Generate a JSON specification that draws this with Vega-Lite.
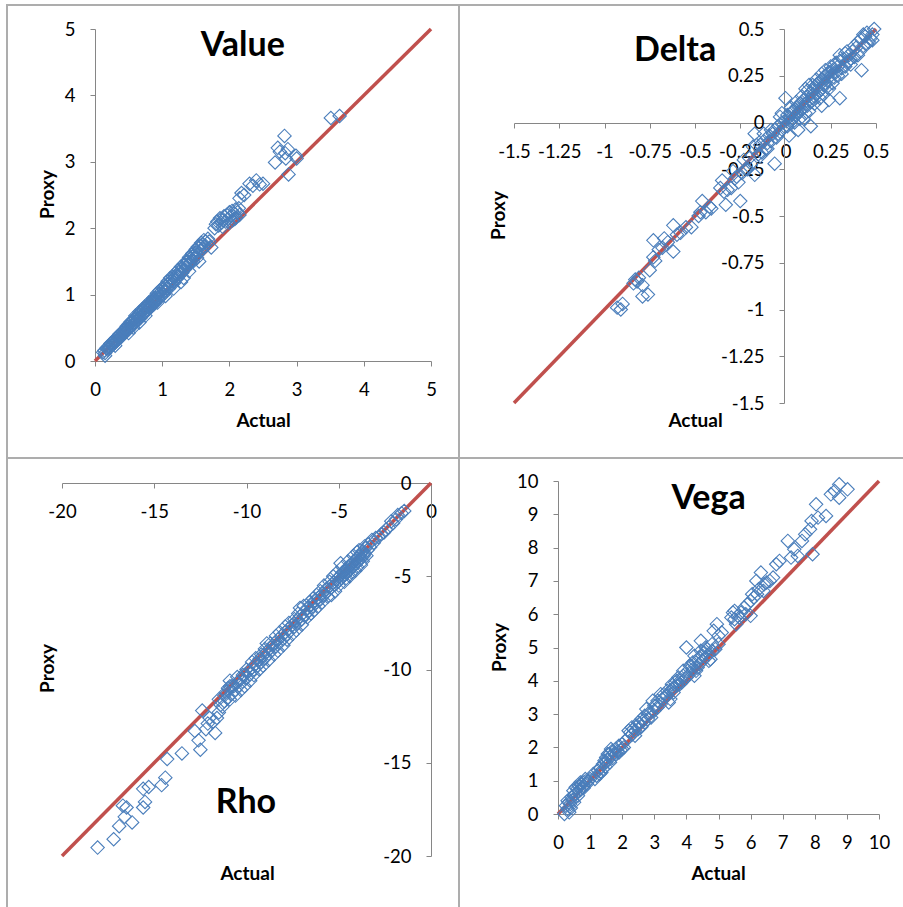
{
  "$schema": "https://vega.github.io/schema/vega-lite/v6.json",
  "background": "white",
  "padding": {"left": 6, "top": 4, "right": 0, "bottom": 0},
  "columns": 2,
  "spacing": 0,
  "bounds": "flush",
  "datasets": {
    "one": [{}],
    "value": [
      {"actual":0.12,"proxy":0.13},{"actual":0.15,"proxy":0.12},{"actual":0.17,"proxy":0.19},{"actual":0.19,"proxy":0.17},{"actual":0.2,"proxy":0.22},{"actual":0.22,"proxy":0.21},{"actual":0.23,"proxy":0.26},{"actual":0.25,"proxy":0.24},{"actual":0.26,"proxy":0.28},{"actual":0.27,"proxy":0.25},{"actual":0.29,"proxy":0.31},{"actual":0.3,"proxy":0.28},{"actual":0.31,"proxy":0.34},{"actual":0.32,"proxy":0.3},{"actual":0.33,"proxy":0.36},{"actual":0.34,"proxy":0.33},{"actual":0.35,"proxy":0.38},{"actual":0.36,"proxy":0.35},{"actual":0.37,"proxy":0.4},{"actual":0.38,"proxy":0.37},{"actual":0.39,"proxy":0.36},{"actual":0.4,"proxy":0.43},{"actual":0.41,"proxy":0.4},{"actual":0.42,"proxy":0.45},{"actual":0.43,"proxy":0.42},{"actual":0.44,"proxy":0.47},{"actual":0.45,"proxy":0.44},{"actual":0.46,"proxy":0.49},{"actual":0.47,"proxy":0.46},{"actual":0.48,"proxy":0.51},{"actual":0.49,"proxy":0.48},{"actual":0.5,"proxy":0.55},{"actual":0.51,"proxy":0.5},{"actual":0.52,"proxy":0.57},{"actual":0.53,"proxy":0.52},{"actual":0.54,"proxy":0.58},{"actual":0.55,"proxy":0.54},{"actual":0.56,"proxy":0.6},{"actual":0.57,"proxy":0.56},{"actual":0.58,"proxy":0.63},{"actual":0.59,"proxy":0.58},{"actual":0.6,"proxy":0.64},{"actual":0.61,"proxy":0.59},{"actual":0.62,"proxy":0.67},{"actual":0.63,"proxy":0.62},{"actual":0.64,"proxy":0.69},{"actual":0.65,"proxy":0.63},{"actual":0.66,"proxy":0.71},{"actual":0.67,"proxy":0.66},{"actual":0.68,"proxy":0.73},{"actual":0.69,"proxy":0.68},{"actual":0.7,"proxy":0.75},{"actual":0.71,"proxy":0.69},{"actual":0.72,"proxy":0.77},{"actual":0.73,"proxy":0.72},{"actual":0.74,"proxy":0.79},{"actual":0.75,"proxy":0.74},{"actual":0.76,"proxy":0.8},{"actual":0.77,"proxy":0.76},{"actual":0.78,"proxy":0.83},{"actual":0.8,"proxy":0.82},{"actual":0.82,"proxy":0.87},{"actual":0.83,"proxy":0.81},{"actual":0.84,"proxy":0.89},{"actual":0.86,"proxy":0.88},{"actual":0.87,"proxy":0.93},{"actual":0.88,"proxy":0.86},{"actual":0.9,"proxy":0.95},{"actual":0.91,"proxy":0.92},{"actual":0.92,"proxy":0.98},{"actual":0.94,"proxy":0.96},{"actual":0.95,"proxy":1.01},{"actual":0.97,"proxy":0.99},{"actual":0.98,"proxy":1.04},{"actual":1.0,"proxy":1.02},{"actual":1.02,"proxy":1.08},{"actual":1.03,"proxy":1.05},{"actual":1.05,"proxy":1.12},{"actual":1.07,"proxy":1.09},{"actual":1.08,"proxy":1.15},{"actual":1.1,"proxy":1.13},{"actual":1.12,"proxy":1.19},{"actual":1.14,"proxy":1.16},{"actual":1.15,"proxy":1.22},{"actual":1.17,"proxy":1.2},{"actual":1.19,"proxy":1.27},{"actual":1.2,"proxy":1.23},{"actual":1.22,"proxy":1.3},{"actual":1.24,"proxy":1.28},{"actual":1.26,"proxy":1.35},{"actual":1.28,"proxy":1.33},{"actual":1.3,"proxy":1.4},{"actual":1.32,"proxy":1.37},{"actual":1.34,"proxy":1.45},{"actual":1.36,"proxy":1.42},{"actual":1.38,"proxy":1.5},{"actual":1.4,"proxy":1.47},{"actual":1.42,"proxy":1.55},{"actual":1.44,"proxy":1.52},{"actual":1.46,"proxy":1.58},{"actual":1.48,"proxy":1.55},{"actual":1.5,"proxy":1.63},{"actual":1.52,"proxy":1.6},{"actual":1.55,"proxy":1.7},{"actual":1.57,"proxy":1.66},{"actual":1.6,"proxy":1.76},{"actual":1.62,"proxy":1.72},{"actual":1.65,"proxy":1.8},{"actual":1.58,"proxy":1.78},{"actual":1.53,"proxy":1.72},{"actual":1.45,"proxy":1.62},
      {"actual":0.14,"proxy":0.16},{"actual":0.18,"proxy":0.2},{"actual":0.21,"proxy":0.19},{"actual":0.24,"proxy":0.27},{"actual":0.28,"proxy":0.3},{"actual":0.33,"proxy":0.31},{"actual":0.36,"proxy":0.4},{"actual":0.4,"proxy":0.38},{"actual":0.44,"proxy":0.43},{"actual":0.47,"proxy":0.52},{"actual":0.5,"proxy":0.47},{"actual":0.53,"proxy":0.59},{"actual":0.55,"proxy":0.6},{"actual":0.58,"proxy":0.55},{"actual":0.6,"proxy":0.68},{"actual":0.62,"proxy":0.6},{"actual":0.64,"proxy":0.66},{"actual":0.66,"proxy":0.74},{"actual":0.68,"proxy":0.65},{"actual":0.7,"proxy":0.78},{"actual":0.72,"proxy":0.7},{"actual":0.74,"proxy":0.82},{"actual":0.76,"proxy":0.74},{"actual":0.78,"proxy":0.78},{"actual":0.8,"proxy":0.88},{"actual":0.82,"proxy":0.8},{"actual":0.84,"proxy":0.84},{"actual":0.86,"proxy":0.94},{"actual":0.88,"proxy":0.9},{"actual":0.9,"proxy":0.88},{"actual":0.92,"proxy":1.02},{"actual":0.94,"proxy":0.93},{"actual":0.96,"proxy":1.06},{"actual":0.98,"proxy":0.97},{"actual":1.0,"proxy":1.1},{"actual":1.02,"proxy":1.0},{"actual":1.04,"proxy":1.14},{"actual":1.06,"proxy":1.06},{"actual":1.08,"proxy":1.2},{"actual":1.1,"proxy":1.09},{"actual":1.12,"proxy":1.25},{"actual":1.14,"proxy":1.22},{"actual":1.16,"proxy":1.27},{"actual":1.18,"proxy":1.18},{"actual":1.2,"proxy":1.33},{"actual":1.22,"proxy":1.24},{"actual":1.24,"proxy":1.37},{"actual":1.26,"proxy":1.3},{"actual":1.28,"proxy":1.42},{"actual":1.3,"proxy":1.33},{"actual":1.32,"proxy":1.46},{"actual":1.34,"proxy":1.38},{"actual":1.36,"proxy":1.5},{"actual":1.38,"proxy":1.44},{"actual":1.4,"proxy":1.56},{"actual":1.42,"proxy":1.48},{"actual":1.44,"proxy":1.6},{"actual":1.46,"proxy":1.5},{"actual":1.5,"proxy":1.68},{"actual":1.52,"proxy":1.55},{"actual":1.56,"proxy":1.74},{"actual":1.6,"proxy":1.68},{"actual":1.62,"proxy":1.82},{"actual":1.64,"proxy":1.74},{"actual":1.68,"proxy":1.84},{"actual":1.7,"proxy":1.8},{"actual":0.75,"proxy":0.68},{"actual":1.05,"proxy":0.98},{"actual":1.32,"proxy":1.25},
      {"actual":0.57,"proxy":0.5},{"actual":0.66,"proxy":0.58},{"actual":0.93,"proxy":0.88},{"actual":1.17,"proxy":1.09},{"actual":1.28,"proxy":1.19},{"actual":1.4,"proxy":1.35},{"actual":1.55,"proxy":1.5},{"actual":0.5,"proxy":0.42},{"actual":0.3,"proxy":0.23},{"actual":0.15,"proxy":0.08},
      {"actual":1.73,"proxy":1.71},{"actual":1.78,"proxy":2.0},{"actual":1.8,"proxy":2.06},{"actual":1.82,"proxy":2.1},{"actual":1.84,"proxy":2.04},{"actual":1.86,"proxy":2.15},{"actual":1.88,"proxy":2.08},{"actual":1.9,"proxy":2.12},{"actual":1.92,"proxy":2.18},{"actual":1.94,"proxy":2.1},{"actual":1.96,"proxy":2.2},{"actual":1.98,"proxy":2.14},{"actual":2.0,"proxy":2.24},{"actual":2.02,"proxy":2.18},{"actual":2.04,"proxy":2.26},{"actual":2.05,"proxy":2.12},{"actual":2.07,"proxy":2.22},{"actual":2.09,"proxy":2.28},{"actual":2.1,"proxy":2.16},{"actual":2.12,"proxy":2.24},{"actual":2.14,"proxy":2.3},{"actual":2.15,"proxy":2.2},{"actual":1.9,"proxy":2.02},{"actual":2.0,"proxy":2.08},{"actual":2.08,"proxy":2.14},
      {"actual":2.15,"proxy":2.45},{"actual":2.18,"proxy":2.53},{"actual":2.22,"proxy":2.5},{"actual":2.3,"proxy":2.67},{"actual":2.35,"proxy":2.64},{"actual":2.4,"proxy":2.72},{"actual":2.45,"proxy":2.66},{"actual":2.5,"proxy":2.67},
      {"actual":2.68,"proxy":2.99},{"actual":2.72,"proxy":3.21},{"actual":2.75,"proxy":3.15},{"actual":2.82,"proxy":3.39},{"actual":2.83,"proxy":3.13},{"actual":2.84,"proxy":3.05},{"actual":2.87,"proxy":3.19},{"actual":2.88,"proxy":2.81},{"actual":2.99,"proxy":3.09},{"actual":3.0,"proxy":3.05},
      {"actual":3.51,"proxy":3.66},{"actual":3.64,"proxy":3.69}
    ],
    "delta": [
      {"actual":-0.93,"proxy":-0.99},{"actual":-0.91,"proxy":-1.0},{"actual":-0.9,"proxy":-0.97},{"actual":-0.84,"proxy":-0.86},{"actual":-0.83,"proxy":-0.84},{"actual":-0.82,"proxy":-0.85},{"actual":-0.81,"proxy":-0.83},{"actual":-0.79,"proxy":-0.87},{"actual":-0.79,"proxy":-0.93},{"actual":-0.76,"proxy":-0.92},{"actual":-0.75,"proxy":-0.79},{"actual":-0.73,"proxy":-0.63},{"actual":-0.73,"proxy":-0.72},{"actual":-0.72,"proxy":-0.74},{"actual":-0.7,"proxy":-0.68},{"actual":-0.68,"proxy":-0.67},{"actual":-0.67,"proxy":-0.62},{"actual":-0.65,"proxy":-0.64},{"actual":-0.62,"proxy":-0.55},{"actual":-0.62,"proxy":-0.69},{"actual":-0.6,"proxy":-0.6},{"actual":-0.58,"proxy":-0.59},{"actual":-0.55,"proxy":-0.56},{"actual":-0.52,"proxy":-0.56},{"actual":-0.48,"proxy":-0.5},{"actual":-0.47,"proxy":-0.48},{"actual":-0.46,"proxy":-0.42},{"actual":-0.44,"proxy":-0.48},{"actual":-0.42,"proxy":-0.45},{"actual":-0.41,"proxy":-0.46},{"actual":-0.36,"proxy":-0.35},{"actual":-0.35,"proxy":-0.31},{"actual":-0.34,"proxy":-0.37},{"actual":-0.33,"proxy":-0.44},{"actual":-0.32,"proxy":-0.36},{"actual":-0.3,"proxy":-0.35},{"actual":-0.28,"proxy":-0.3},{"actual":-0.25,"proxy":-0.42},{"actual":-0.24,"proxy":-0.27},{"actual":-0.22,"proxy":-0.25},{"actual":-0.21,"proxy":-0.25},{"actual":-0.2,"proxy":-0.19},{"actual":-0.18,"proxy":-0.13},{"actual":-0.17,"proxy":-0.06},{"actual":-0.17,"proxy":-0.28},{"actual":-0.15,"proxy":-0.17},{"actual":-0.14,"proxy":-0.12},{"actual":-0.13,"proxy":-0.16},{"actual":-0.12,"proxy":-0.1},{"actual":-0.11,"proxy":-0.14},{"actual":-0.1,"proxy":-0.11},{"actual":-0.09,"proxy":-0.07},{"actual":-0.08,"proxy":-0.1},{"actual":-0.07,"proxy":-0.06},{"actual":-0.06,"proxy":-0.22},{"actual":-0.06,"proxy":-0.04},{"actual":-0.05,"proxy":-0.08},{"actual":-0.04,"proxy":-0.02},{"actual":-0.03,"proxy":-0.05},{"actual":-0.03,"proxy":0.03},{"actual":-0.02,"proxy":0.0},{"actual":-0.01,"proxy":-0.03},
      {"actual":0.01,"proxy":0.04},{"actual":0.03,"proxy":0.08},{"actual":0.05,"proxy":0.0},{"actual":0.06,"proxy":0.11},{"actual":0.08,"proxy":0.02},{"actual":0.09,"proxy":0.14},{"actual":0.11,"proxy":0.05},{"actual":0.12,"proxy":0.17},{"actual":0.13,"proxy":0.06},{"actual":0.15,"proxy":0.2},{"actual":0.16,"proxy":0.1},{"actual":0.17,"proxy":0.23},{"actual":0.19,"proxy":0.13},{"actual":0.2,"proxy":0.26},{"actual":0.21,"proxy":0.15},{"actual":0.22,"proxy":0.28},{"actual":0.24,"proxy":0.18},{"actual":0.25,"proxy":0.3},{"actual":0.26,"proxy":0.21},{"actual":0.27,"proxy":0.31},{"actual":0.29,"proxy":0.25},{"actual":0.3,"proxy":0.36},{"actual":0.31,"proxy":0.26},{"actual":0.33,"proxy":0.3},{"actual":0.34,"proxy":0.38},{"actual":0.36,"proxy":0.31},{"actual":0.38,"proxy":0.41},{"actual":0.4,"proxy":0.36},{"actual":0.43,"proxy":0.47},{"actual":0.45,"proxy":0.48},{"actual":0.46,"proxy":0.43},{"actual":0.35,"proxy":0.33},{"actual":0.24,"proxy":0.12},{"actual":0.2,"proxy":0.09},{"actual":-0.02,"proxy":0.05},{"actual":-0.04,"proxy":-0.06},{"actual":-0.08,"proxy":-0.04},{"actual":-0.1,"proxy":-0.14},{"actual":-0.12,"proxy":-0.06},{"actual":-0.14,"proxy":-0.18},{"actual":-0.16,"proxy":-0.12},{"actual":-0.19,"proxy":-0.22},{"actual":-0.23,"proxy":-0.2},{"actual":-0.27,"proxy":-0.29},{"actual":-0.29,"proxy":-0.26},{"actual":-0.26,"proxy":-0.32},
      {"actual":0.0,"proxy":0.13},{"actual":0.0,"proxy":0.01},{"actual":0.01,"proxy":-0.02},{"actual":0.02,"proxy":0.03},{"actual":0.02,"proxy":0.0},{"actual":0.02,"proxy":-0.07},{"actual":0.03,"proxy":0.05},{"actual":0.03,"proxy":0.01},{"actual":0.04,"proxy":0.06},{"actual":0.04,"proxy":0.02},{"actual":0.05,"proxy":0.07},{"actual":0.05,"proxy":0.03},{"actual":0.06,"proxy":0.08},{"actual":0.06,"proxy":0.04},{"actual":0.07,"proxy":0.09},{"actual":0.07,"proxy":0.05},{"actual":0.07,"proxy":-0.04},{"actual":0.08,"proxy":0.1},{"actual":0.08,"proxy":0.06},{"actual":0.09,"proxy":0.11},{"actual":0.09,"proxy":0.07},{"actual":0.1,"proxy":0.12},{"actual":0.1,"proxy":0.08},{"actual":0.1,"proxy":0.02},{"actual":0.11,"proxy":0.18},{"actual":0.11,"proxy":0.1},{"actual":0.12,"proxy":0.14},{"actual":0.12,"proxy":0.09},{"actual":0.13,"proxy":0.2},{"actual":0.13,"proxy":0.12},{"actual":0.14,"proxy":0.16},{"actual":0.14,"proxy":0.11},{"actual":0.14,"proxy":-0.02},{"actual":0.15,"proxy":0.17},{"actual":0.15,"proxy":0.13},{"actual":0.16,"proxy":0.19},{"actual":0.16,"proxy":0.14},{"actual":0.17,"proxy":0.2},{"actual":0.17,"proxy":0.15},{"actual":0.18,"proxy":0.21},{"actual":0.18,"proxy":0.16},{"actual":0.19,"proxy":0.22},{"actual":0.19,"proxy":0.17},{"actual":0.2,"proxy":0.23},{"actual":0.2,"proxy":0.18},{"actual":0.21,"proxy":0.24},{"actual":0.21,"proxy":0.2},{"actual":0.22,"proxy":0.25},{"actual":0.22,"proxy":0.21},{"actual":0.23,"proxy":0.26},{"actual":0.23,"proxy":0.19},{"actual":0.24,"proxy":0.27},{"actual":0.24,"proxy":0.22},{"actual":0.25,"proxy":0.25},{"actual":0.26,"proxy":0.28},{"actual":0.27,"proxy":0.24},{"actual":0.28,"proxy":0.32},{"actual":0.28,"proxy":0.27},{"actual":0.29,"proxy":0.3},{"actual":0.3,"proxy":0.13},{"actual":0.3,"proxy":0.33},{"actual":0.31,"proxy":0.29},{"actual":0.32,"proxy":0.34},{"actual":0.33,"proxy":0.37},{"actual":0.34,"proxy":0.32},{"actual":0.35,"proxy":0.36},{"actual":0.36,"proxy":0.34},{"actual":0.37,"proxy":0.38},{"actual":0.38,"proxy":0.35},{"actual":0.39,"proxy":0.4},{"actual":0.4,"proxy":0.43},{"actual":0.41,"proxy":0.38},{"actual":0.42,"proxy":0.28},{"actual":0.42,"proxy":0.45},{"actual":0.43,"proxy":0.41},{"actual":0.44,"proxy":0.46},{"actual":0.45,"proxy":0.42},{"actual":0.47,"proxy":0.45},{"actual":0.48,"proxy":0.44},{"actual":0.48,"proxy":0.47},{"actual":0.49,"proxy":0.5}
    ],
    "rho": [
      {"actual":-1.45,"proxy":-1.5},{"actual":-1.6,"proxy":-1.62},{"actual":-1.8,"proxy":-1.72},{"actual":-1.9,"proxy":-1.95},{"actual":-2.05,"proxy":-2.15},{"actual":-2.15,"proxy":-2.05},{"actual":-2.3,"proxy":-2.38},{"actual":-2.45,"proxy":-2.5},{"actual":-2.55,"proxy":-2.65},{"actual":-2.7,"proxy":-2.75},{"actual":-2.85,"proxy":-2.9},{"actual":-3.0,"proxy":-2.95},{"actual":-3.1,"proxy":-3.2},{"actual":-3.2,"proxy":-3.05},{"actual":-3.3,"proxy":-3.45},{"actual":-3.4,"proxy":-3.3},{"actual":-3.45,"proxy":-3.6},{"actual":-3.55,"proxy":-3.5},{"actual":-3.6,"proxy":-3.75},{"actual":-3.65,"proxy":-3.9},{"actual":-3.7,"proxy":-3.65},{"actual":-3.75,"proxy":-4.0},{"actual":-3.8,"proxy":-3.8},{"actual":-3.85,"proxy":-4.1},{"actual":-3.9,"proxy":-3.95},{"actual":-3.95,"proxy":-4.2},{"actual":-4.0,"proxy":-4.05},{"actual":-4.0,"proxy":-3.7},{"actual":-4.05,"proxy":-4.3},{"actual":-4.1,"proxy":-4.15},{"actual":-4.15,"proxy":-4.4},{"actual":-4.2,"proxy":-4.2},{"actual":-4.25,"proxy":-4.5},{"actual":-4.3,"proxy":-4.35},{"actual":-4.35,"proxy":-4.6},{"actual":-4.4,"proxy":-4.45},{"actual":-4.45,"proxy":-4.7},{"actual":-4.5,"proxy":-4.5},{"actual":-4.55,"proxy":-4.8},{"actual":-4.6,"proxy":-4.65},{"actual":-4.65,"proxy":-4.9},{"actual":-4.7,"proxy":-4.75},{"actual":-4.75,"proxy":-5.0},{"actual":-4.8,"proxy":-4.8},{"actual":-4.85,"proxy":-5.1},{"actual":-4.9,"proxy":-4.95},{"actual":-4.9,"proxy":-4.3},{"actual":-4.95,"proxy":-5.2},{"actual":-5.0,"proxy":-5.05},{"actual":-5.05,"proxy":-5.3},{"actual":-5.1,"proxy":-5.15},{"actual":-5.2,"proxy":-5.45},{"actual":-5.3,"proxy":-5.35},{"actual":-5.4,"proxy":-5.6},{"actual":-5.5,"proxy":-5.55},{"actual":-5.6,"proxy":-5.8},{"actual":-5.7,"proxy":-5.7},{"actual":-5.8,"proxy":-6.0},{"actual":-5.9,"proxy":-5.95},{"actual":-6.0,"proxy":-6.25},{"actual":-6.1,"proxy":-6.15},{"actual":-6.2,"proxy":-6.4},{"actual":-6.3,"proxy":-6.3},{"actual":-6.4,"proxy":-6.6},{"actual":-6.5,"proxy":-6.55},{"actual":-6.6,"proxy":-6.85},{"actual":-6.7,"proxy":-6.7},{"actual":-6.8,"proxy":-7.05},{"actual":-6.9,"proxy":-6.95},{"actual":-7.0,"proxy":-7.3},{"actual":-7.1,"proxy":-7.15},{"actual":-7.1,"proxy":-6.7},{"actual":-7.2,"proxy":-7.5},{"actual":-7.3,"proxy":-7.4},{"actual":-7.4,"proxy":-7.7},{"actual":-7.5,"proxy":-7.6},{"actual":-7.6,"proxy":-7.9},{"actual":-7.7,"proxy":-7.8},{"actual":-7.8,"proxy":-8.1},{"actual":-7.9,"proxy":-8.0},{"actual":-8.0,"proxy":-8.35},{"actual":-8.1,"proxy":-8.2},{"actual":-8.2,"proxy":-8.55},{"actual":-8.3,"proxy":-8.4},{"actual":-8.4,"proxy":-8.75},{"actual":-8.5,"proxy":-8.6},{"actual":-8.6,"proxy":-8.95},{"actual":-8.7,"proxy":-8.85},{"actual":-8.8,"proxy":-9.15},{"actual":-8.9,"proxy":-9.05},{"actual":-8.9,"proxy":-8.6},{"actual":-9.0,"proxy":-9.4},{"actual":-9.1,"proxy":-9.25},{"actual":-9.2,"proxy":-9.6},{"actual":-9.3,"proxy":-9.45},{"actual":-9.4,"proxy":-9.8},{"actual":-9.5,"proxy":-9.7},{"actual":-9.6,"proxy":-10.0},{"actual":-9.7,"proxy":-9.9},{"actual":-9.8,"proxy":-10.25},{"actual":-9.9,"proxy":-10.1},{"actual":-10.0,"proxy":-10.45},{"actual":-10.1,"proxy":-10.3},{"actual":-10.2,"proxy":-10.65},{"actual":-10.3,"proxy":-10.5},{"actual":-10.4,"proxy":-10.85},{"actual":-10.5,"proxy":-10.7},{"actual":-10.6,"proxy":-11.1},{"actual":-10.7,"proxy":-10.9},{"actual":-10.8,"proxy":-11.3},{"actual":-10.9,"proxy":-10.9},{"actual":-10.9,"proxy":-10.6},{"actual":-11.0,"proxy":-11.5},{"actual":-11.1,"proxy":-11.2},{"actual":-11.2,"proxy":-11.7},{"actual":-11.4,"proxy":-11.9},{"actual":-11.5,"proxy":-12.3},{"actual":-11.6,"proxy":-12.6},{"actual":-11.7,"proxy":-13.4},{"actual":-11.8,"proxy":-12.8},{"actual":-12.0,"proxy":-12.6},{"actual":-12.1,"proxy":-12.9},{"actual":-12.2,"proxy":-13.2},{"actual":-12.4,"proxy":-12.2},{"actual":-12.5,"proxy":-14.3},{"actual":-12.6,"proxy":-13.8},{"actual":-12.8,"proxy":-13.3},{"actual":-13.5,"proxy":-14.5},{"actual":-14.3,"proxy":-14.8},{"actual":-14.4,"proxy":-15.8},{"actual":-14.6,"proxy":-16.2},{"actual":-15.3,"proxy":-16.3},{"actual":-15.5,"proxy":-17.1},{"actual":-15.6,"proxy":-16.4},{"actual":-15.6,"proxy":-17.4},{"actual":-16.2,"proxy":-18.2},{"actual":-16.5,"proxy":-17.4},{"actual":-16.6,"proxy":-17.9},{"actual":-16.7,"proxy":-17.3},{"actual":-16.9,"proxy":-18.4},{"actual":-17.2,"proxy":-19.1},{"actual":-18.07,"proxy":-19.55},
      {"actual":-3.5,"proxy":-3.9},{"actual":-3.6,"proxy":-3.4},{"actual":-3.7,"proxy":-4.2},{"actual":-3.8,"proxy":-4.4},{"actual":-3.9,"proxy":-3.6},{"actual":-4.0,"proxy":-4.5},{"actual":-4.1,"proxy":-4.7},{"actual":-4.2,"proxy":-3.9},{"actual":-4.3,"proxy":-4.8},{"actual":-4.4,"proxy":-5.0},{"actual":-4.5,"proxy":-4.2},{"actual":-4.6,"proxy":-5.1},{"actual":-4.7,"proxy":-5.3},{"actual":-4.8,"proxy":-4.5},{"actual":-5.0,"proxy":-5.5},{"actual":-5.1,"proxy":-4.8},{"actual":-5.2,"proxy":-5.8},{"actual":-5.3,"proxy":-5.0},{"actual":-5.4,"proxy":-6.0},{"actual":-5.5,"proxy":-5.3},{"actual":-5.6,"proxy":-6.1},{"actual":-5.8,"proxy":-5.5},{"actual":-5.9,"proxy":-6.4},{"actual":-6.0,"proxy":-5.8},{"actual":-6.1,"proxy":-6.6},{"actual":-6.2,"proxy":-6.0},{"actual":-6.3,"proxy":-6.8},{"actual":-6.4,"proxy":-6.2},{"actual":-6.5,"proxy":-7.0},{"actual":-6.6,"proxy":-6.4},{"actual":-6.7,"proxy":-7.2},{"actual":-6.9,"proxy":-6.6},{"actual":-7.0,"proxy":-7.6},{"actual":-7.2,"proxy":-7.0},{"actual":-7.3,"proxy":-7.9},{"actual":-7.4,"proxy":-7.3},{"actual":-7.5,"proxy":-8.1},{"actual":-7.7,"proxy":-7.5},{"actual":-7.8,"proxy":-8.4},{"actual":-7.9,"proxy":-7.7},{"actual":-8.0,"proxy":-8.7},{"actual":-8.2,"proxy":-8.0},{"actual":-8.3,"proxy":-9.0},{"actual":-8.4,"proxy":-8.2},{"actual":-8.5,"proxy":-9.2},{"actual":-8.7,"proxy":-8.6},{"actual":-8.8,"proxy":-9.5},{"actual":-9.0,"proxy":-8.9},{"actual":-9.1,"proxy":-9.8},{"actual":-9.2,"proxy":-9.2},{"actual":-9.3,"proxy":-10.0},{"actual":-9.5,"proxy":-9.4},{"actual":-9.6,"proxy":-10.3},{"actual":-9.7,"proxy":-9.6},{"actual":-9.8,"proxy":-10.6},{"actual":-10.0,"proxy":-10.0},{"actual":-10.1,"proxy":-10.9},{"actual":-10.2,"proxy":-10.3},{"actual":-10.3,"proxy":-11.1},{"actual":-10.5,"proxy":-10.4},{"actual":-10.6,"proxy":-11.4},{"actual":-10.8,"proxy":-10.9},{"actual":-10.9,"proxy":-11.6},{"actual":-11.0,"proxy":-11.0},{"actual":-11.2,"proxy":-11.4},{"actual":-11.3,"proxy":-12.0},{"actual":-11.5,"proxy":-11.6}
    ],
    "vega": [
      {"actual":0.2,"proxy":0.0},{"actual":0.25,"proxy":0.25},{"actual":0.3,"proxy":0.15},{"actual":0.33,"proxy":0.35},{"actual":0.35,"proxy":0.05},{"actual":0.38,"proxy":0.3},{"actual":0.4,"proxy":0.18},{"actual":0.42,"proxy":0.5},{"actual":0.45,"proxy":0.42},{"actual":0.48,"proxy":0.7},{"actual":0.5,"proxy":0.55},{"actual":0.55,"proxy":0.62},{"actual":0.6,"proxy":0.75},{"actual":0.62,"proxy":0.55},{"actual":0.65,"proxy":0.85},{"actual":0.7,"proxy":0.72},{"actual":0.72,"proxy":0.9},{"actual":0.75,"proxy":0.8},{"actual":0.78,"proxy":0.95},{"actual":0.8,"proxy":0.85},{"actual":0.85,"proxy":0.98},{"actual":0.9,"proxy":0.9},{"actual":0.95,"proxy":1.0},{"actual":1.2,"proxy":1.15},{"actual":1.25,"proxy":1.3},{"actual":1.3,"proxy":1.38},{"actual":1.35,"proxy":1.25},{"actual":1.4,"proxy":1.5},{"actual":1.45,"proxy":1.6},{"actual":1.48,"proxy":1.42},{"actual":1.5,"proxy":1.7},{"actual":1.55,"proxy":1.62},{"actual":1.6,"proxy":1.8},{"actual":1.62,"proxy":1.55},{"actual":1.65,"proxy":1.75},{"actual":1.7,"proxy":1.9},{"actual":1.75,"proxy":1.82},{"actual":1.8,"proxy":1.95},{"actual":1.85,"proxy":1.88},{"actual":1.9,"proxy":2.05},{"actual":1.95,"proxy":1.92},{"actual":2.0,"proxy":2.1},{"actual":2.05,"proxy":2.0},{"actual":2.2,"proxy":2.3},{"actual":2.25,"proxy":2.45},{"actual":2.3,"proxy":2.38},{"actual":2.35,"proxy":2.55},{"actual":2.4,"proxy":2.5},{"actual":2.45,"proxy":2.65},{"actual":2.5,"proxy":2.55},{"actual":2.55,"proxy":2.72},{"actual":2.6,"proxy":2.62},{"actual":2.65,"proxy":2.8},{"actual":2.7,"proxy":2.75},{"actual":2.75,"proxy":3.15},{"actual":2.8,"proxy":2.85},{"actual":2.9,"proxy":3.05},{"actual":2.95,"proxy":3.4},{"actual":3.0,"proxy":3.1},{"actual":3.05,"proxy":3.25},{"actual":3.1,"proxy":3.2},{"actual":3.2,"proxy":3.6},{"actual":3.25,"proxy":3.45},{"actual":3.3,"proxy":3.5},{"actual":3.4,"proxy":3.55},{"actual":3.45,"proxy":3.35},{"actual":3.5,"proxy":3.7},{"actual":3.55,"proxy":3.75},{"actual":3.6,"proxy":3.8},{"actual":3.65,"proxy":3.95},{"actual":3.7,"proxy":3.85},{"actual":3.75,"proxy":4.1},{"actual":3.8,"proxy":4.0},{"actual":3.85,"proxy":3.95},{"actual":3.9,"proxy":4.15},{"actual":3.95,"proxy":4.05},{"actual":4.0,"proxy":5.0},{"actual":4.05,"proxy":4.3},{"actual":4.1,"proxy":4.2},{"actual":4.15,"proxy":4.45},{"actual":4.2,"proxy":4.35},{"actual":4.25,"proxy":4.15},{"actual":4.3,"proxy":4.55},{"actual":4.35,"proxy":4.4},{"actual":4.4,"proxy":4.7},{"actual":4.45,"proxy":5.2},{"actual":4.5,"proxy":4.6},{"actual":4.55,"proxy":4.85},{"actual":4.6,"proxy":4.7},{"actual":4.65,"proxy":4.95},{"actual":4.7,"proxy":4.8},{"actual":4.75,"proxy":4.65},{"actual":4.8,"proxy":4.9},{"actual":4.85,"proxy":5.5},{"actual":4.95,"proxy":5.7},{"actual":5.0,"proxy":5.1},{"actual":5.4,"proxy":5.9},{"actual":5.45,"proxy":6.05},{"actual":5.5,"proxy":5.85},{"actual":5.55,"proxy":5.7},{"actual":5.6,"proxy":5.95},{"actual":5.7,"proxy":6.05},{"actual":5.8,"proxy":6.2},{"actual":5.85,"proxy":6.0},{"actual":6.0,"proxy":5.95},{"actual":6.0,"proxy":6.4},{"actual":6.1,"proxy":6.5},{"actual":6.18,"proxy":7.0},{"actual":6.25,"proxy":6.75},{"actual":6.32,"proxy":7.25},{"actual":6.42,"proxy":6.9},{"actual":6.5,"proxy":6.95},{"actual":6.7,"proxy":7.1},{"actual":6.8,"proxy":7.5},{"actual":6.9,"proxy":7.6},{"actual":7.16,"proxy":8.2},{"actual":7.26,"proxy":7.7},{"actual":7.36,"proxy":7.95},{"actual":7.47,"proxy":7.75},{"actual":7.6,"proxy":8.2},{"actual":7.7,"proxy":8.4},{"actual":7.85,"proxy":8.55},{"actual":7.9,"proxy":8.8},{"actual":7.93,"proxy":7.8},{"actual":8.04,"proxy":9.3},{"actual":8.1,"proxy":8.9},{"actual":8.35,"proxy":8.95},{"actual":8.5,"proxy":9.6},{"actual":8.62,"proxy":9.7},{"actual":8.76,"proxy":9.9},{"actual":8.76,"proxy":9.5},{"actual":9.02,"proxy":9.75},
      {"actual":0.3,"proxy":0.4},{"actual":0.5,"proxy":0.35},{"actual":0.55,"proxy":0.8},{"actual":0.65,"proxy":0.68},{"actual":0.7,"proxy":0.95},{"actual":0.8,"proxy":0.78},{"actual":0.85,"proxy":1.05},{"actual":1.0,"proxy":1.05},{"actual":1.1,"proxy":1.2},{"actual":1.15,"proxy":1.05},{"actual":1.3,"proxy":1.2},{"actual":1.4,"proxy":1.35},{"actual":1.5,"proxy":1.55},{"actual":1.55,"proxy":1.8},{"actual":1.65,"proxy":1.95},{"actual":1.7,"proxy":1.68},{"actual":1.8,"proxy":1.8},{"actual":1.9,"proxy":1.85},{"actual":2.0,"proxy":1.95},{"actual":2.1,"proxy":2.2},{"actual":2.2,"proxy":2.5},{"actual":2.3,"proxy":2.6},{"actual":2.4,"proxy":2.35},{"actual":2.5,"proxy":2.75},{"actual":2.6,"proxy":2.85},{"actual":2.7,"proxy":2.95},{"actual":2.8,"proxy":3.0},{"actual":2.9,"proxy":2.9},{"actual":3.0,"proxy":3.25},{"actual":3.1,"proxy":3.4},{"actual":3.2,"proxy":3.3},{"actual":3.3,"proxy":3.6},{"actual":3.4,"proxy":3.7},{"actual":3.5,"proxy":3.45},{"actual":3.55,"proxy":3.9},{"actual":3.6,"proxy":3.65},{"actual":3.7,"proxy":4.0},{"actual":3.8,"proxy":3.9},{"actual":3.9,"proxy":4.3},{"actual":4.0,"proxy":4.1},{"actual":4.1,"proxy":4.45},{"actual":4.2,"proxy":4.55},{"actual":4.25,"proxy":4.75},{"actual":4.3,"proxy":4.3},{"actual":4.4,"proxy":4.5},{"actual":4.45,"proxy":4.9},{"actual":4.5,"proxy":4.75},{"actual":4.6,"proxy":5.0},{"actual":4.7,"proxy":4.6},{"actual":4.8,"proxy":5.1},{"actual":4.9,"proxy":4.95},{"actual":5.0,"proxy":5.35},{"actual":5.1,"proxy":5.45},{"actual":5.5,"proxy":6.1},{"actual":5.65,"proxy":5.9},{"actual":5.9,"proxy":6.3},{"actual":6.05,"proxy":6.6},{"actual":6.2,"proxy":6.6},{"actual":6.4,"proxy":6.7},{"actual":6.6,"proxy":7.0}
    ]
  },
  "concat": [
    {
      "width": 452, "height": 453,
      "layer": [
        {"data": {"name": "one"},
         "mark": {"type": "rule", "color": "#C0504D", "strokeWidth": 3.5},
         "encoding": {
           "x": {"datum": 0, "type": "quantitative", "scale": {"domain": [0, 5], "range": [88, 424], "nice": false, "zero": false},
                 "axis": {"orient": "bottom", "offset": -97, "values": [0,1,2,3,4,5], "title": "Actual", "titleX": 256, "titleY": 65, "labelExpr": "replace(format(datum.value, '~g'), '\u2212', '-')"}},
           "y": {"datum": 0, "type": "quantitative", "scale": {"domain": [0, 5], "range": [356, 24], "nice": false, "zero": false},
                 "axis": {"orient": "left", "offset": -88, "values": [0,1,2,3,4,5], "title": "Proxy", "titleX": -42, "titleY": 189, "labelExpr": "replace(format(datum.value, '~g'), '\u2212', '-')"}},
           "x2": {"datum": 5}, "y2": {"datum": 5}}},
        {"data": {"name": "value"},
         "mark": {"type": "point", "shape": "diamond", "size": 180, "filled": false, "color": "#4A7EBB", "strokeWidth": 1.1, "opacity": 1},
         "encoding": {"x": {"field": "actual", "type": "quantitative"}, "y": {"field": "proxy", "type": "quantitative"}}},
        {"data": {"name": "one"},
         "mark": {"type": "text", "text": "Value", "font": "Lato", "fontSize": 34, "fontWeight": "bold", "align": "center", "baseline": "alphabetic", "color": "#000000"},
         "encoding": {"x": {"datum": 2.2, "type": "quantitative"}, "y": {"datum": 4.59, "type": "quantitative"}}}
      ]
    },
    {
      "width": 452, "height": 453,
      "layer": [
        {"data": {"name": "one"},
         "mark": {"type": "rule", "color": "#C0504D", "strokeWidth": 3.5},
         "encoding": {
           "x": {"datum": -1.5, "type": "quantitative", "scale": {"domain": [-1.5, 0.5], "range": [55, 417], "nice": false, "zero": false},
                 "axis": {"orient": "bottom", "offset": -335, "values": [-1.5,-1.25,-1,-0.75,-0.5,-0.25,0,0.25,0.5], "title": "Actual", "titleX": 236, "titleY": 303, "labelExpr": "replace(format(datum.value, '~g'), '\u2212', '-')"}},
           "y": {"datum": -1.5, "type": "quantitative", "scale": {"domain": [-1.5, 0.5], "range": [398, 24], "nice": false, "zero": false},
                 "axis": {"orient": "left", "offset": -325, "values": [-1.5,-1.25,-1,-0.75,-0.5,-0.25,0,0.25,0.5], "title": "Proxy", "titleX": -280, "titleY": 210, "labelExpr": "replace(format(datum.value, '~g'), '\u2212', '-')"}},
           "x2": {"datum": 0.5}, "y2": {"datum": 0.5}}},
        {"data": {"name": "delta"},
         "mark": {"type": "point", "shape": "diamond", "size": 180, "filled": false, "color": "#4A7EBB", "strokeWidth": 1.1, "opacity": 1},
         "encoding": {"x": {"field": "actual", "type": "quantitative"}, "y": {"field": "proxy", "type": "quantitative"}}},
        {"data": {"name": "one"},
         "mark": {"type": "text", "text": "Delta", "font": "Lato", "fontSize": 34, "fontWeight": "bold", "align": "center", "baseline": "alphabetic", "color": "#000000"},
         "encoding": {"x": {"datum": -0.61, "type": "quantitative"}, "y": {"datum": 0.33, "type": "quantitative"}}}
      ]
    },
    {
      "width": 452, "height": 453,
      "layer": [
        {"data": {"name": "one"},
         "mark": {"type": "rule", "color": "#C0504D", "strokeWidth": 3.5},
         "encoding": {
           "x": {"datum": -20, "type": "quantitative", "scale": {"domain": [-20, 0], "range": [55, 424], "nice": false, "zero": false},
                 "axis": {"orient": "bottom", "offset": -428, "values": [-20,-15,-10,-5,0], "title": "Actual", "titleX": 240, "titleY": 396, "labelExpr": "replace(format(datum.value, '~g'), '\u2212', '-')"}},
           "y": {"datum": -20, "type": "quantitative", "scale": {"domain": [-20, 0], "range": [398, 25], "nice": false, "zero": false},
                 "axis": {"orient": "left", "offset": -424, "values": [-20,-15,-10,-5,0], "title": "Proxy", "titleX": -378, "titleY": 210, "labelExpr": "replace(format(datum.value, '~g'), '\u2212', '-')"}},
           "x2": {"datum": 0}, "y2": {"datum": 0}}},
        {"data": {"name": "rho"},
         "mark": {"type": "point", "shape": "diamond", "size": 180, "filled": false, "color": "#4A7EBB", "strokeWidth": 1.1, "opacity": 1},
         "encoding": {"x": {"field": "actual", "type": "quantitative"}, "y": {"field": "proxy", "type": "quantitative"}}},
        {"data": {"name": "one"},
         "mark": {"type": "text", "text": "Rho", "font": "Lato", "fontSize": 34, "fontWeight": "bold", "align": "center", "baseline": "alphabetic", "color": "#000000"},
         "encoding": {"x": {"datum": -10.03, "type": "quantitative"}, "y": {"datum": -17.69, "type": "quantitative"}}}
      ]
    },
    {
      "width": 452, "height": 453,
      "layer": [
        {"data": {"name": "one"},
         "mark": {"type": "rule", "color": "#C0504D", "strokeWidth": 3.5},
         "encoding": {
           "x": {"datum": 0, "type": "quantitative", "scale": {"domain": [0, 10], "range": [99, 420], "nice": false, "zero": false},
                 "axis": {"orient": "bottom", "offset": -97, "values": [0,1,2,3,4,5,6,7,8,9,10], "title": "Actual", "titleX": 259, "titleY": 65, "labelExpr": "replace(format(datum.value, '~g'), '\u2212', '-')"}},
           "y": {"datum": 0, "type": "quantitative", "scale": {"domain": [0, 10], "range": [356, 23], "nice": false, "zero": false},
                 "axis": {"orient": "left", "offset": -99, "values": [0,1,2,3,4,5,6,7,8,9,10], "title": "Proxy", "titleX": -53, "titleY": 189, "labelExpr": "replace(format(datum.value, '~g'), '\u2212', '-')"}},
           "x2": {"datum": 10}, "y2": {"datum": 10}}},
        {"data": {"name": "vega"},
         "mark": {"type": "point", "shape": "diamond", "size": 180, "filled": false, "color": "#4A7EBB", "strokeWidth": 1.1, "opacity": 1},
         "encoding": {"x": {"field": "actual", "type": "quantitative"}, "y": {"field": "proxy", "type": "quantitative"}}},
        {"data": {"name": "one"},
         "mark": {"type": "text", "text": "Vega", "font": "Lato", "fontSize": 34, "fontWeight": "bold", "align": "center", "baseline": "alphabetic", "color": "#000000"},
         "encoding": {"x": {"datum": 4.69, "type": "quantitative"}, "y": {"datum": 9.15, "type": "quantitative"}}}
      ]
    }
  ],
  "config": {
    "view": {"stroke": "#ADADAD", "strokeWidth": 2},
    "axis": {
      "grid": false,
      "domainColor": "#868686",
      "domainWidth": 1,
      "tickColor": "#868686",
      "tickWidth": 1,
      "tickSize": 5,
      "labelFont": "Lato",
      "labelFontSize": 18.5,
      "labelColor": "#000000",
      "labelFlush": false,
      "labelOverlap": false,
      "labelBound": false,
      "titleFont": "Lato",
      "titleFontSize": 19,
      "titleFontWeight": "bold",
      "titleColor": "#000000",
      "titleBaseline": "alphabetic",
      "titleAlign": "center"
    },
    "axisX": {"labelPadding": 14},
    "axisY": {"labelPadding": 15, "titleAngle": 270}
  }
}
